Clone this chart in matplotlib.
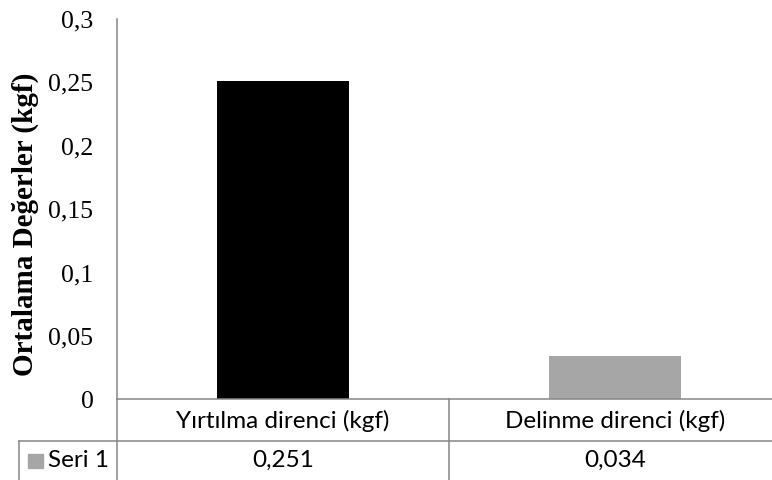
import matplotlib
matplotlib.use('Agg')
import matplotlib.pyplot as plt
import matplotlib.transforms as mtransforms
from matplotlib.patches import Rectangle
from matplotlib.ticker import FuncFormatter

categories = ['Yırtılma direnci (kgf)', 'Delinme direnci (kgf)']
values = [0.251, 0.034]
value_labels = ['0,251', '0,034']
series_name = 'Seri 1'
bar_colors = ['#000000', '#A6A6A6']
yticks = [0, 0.05, 0.1, 0.15, 0.2, 0.25, 0.3]

grid_col = '#868686'
serif = ['Liberation Serif', 'DejaVu Serif']
sans = ['Lato', 'DejaVu Sans']

fig = plt.figure(figsize=(7.72, 4.8), dpi=100)
ax = fig.add_axes([0.1516, 0.168, 0.8601, 0.7925])

x = list(range(len(categories)))
ax.bar(x, values, width=0.4, color=bar_colors)

ax.set_xlim(-0.5, 1.5)
ax.set_ylim(0, 0.3)
ax.set_yticks(yticks)
ax.yaxis.set_major_formatter(FuncFormatter(lambda v, p: f'{v:g}'.replace('.', ',')))
ax.tick_params(axis='y', length=0, pad=17, labelsize=18.5)
for lab in ax.get_yticklabels():
    lab.set_family(serif)
ax.set_xticks([])

for s in ['top', 'right']:
    ax.spines[s].set_visible(False)
ax.spines['left'].set_color(grid_col)
ax.spines['bottom'].set_color(grid_col)
ax.spines['left'].set_linewidth(1.1)
ax.spines['bottom'].set_linewidth(1.1)

fig.text(25 / 772, (480 - 224) / 480, 'Ortalama Değerler (kgf)', rotation=90,
         ha='center', va='center', fontsize=21, fontweight='bold', family=serif)

# data table under the plot
trans = mtransforms.blended_transform_factory(ax.transData, ax.transAxes)
head_bot = -0.1088
tab_bot = -0.23
left_x = -0.1476
lk = dict(color=grid_col, lw=1.1, clip_on=False)
ax.plot([0, 0], [0, tab_bot], transform=ax.transAxes, **lk)
ax.plot([0.5, 0.5], [0, tab_bot], transform=ax.transAxes, **lk)
ax.plot([left_x, 1], [head_bot, head_bot], transform=ax.transAxes, **lk)
ax.plot([left_x, left_x], [head_bot, tab_bot], transform=ax.transAxes, **lk)

for xi, cat, vl in zip(x, categories, value_labels):
    ax.text(xi, -0.057, cat, transform=trans, ha='center', va='center',
            fontsize=17.5, family=sans)
    ax.text(xi, -0.1596, vl, transform=trans, ha='center', va='center',
            fontsize=17.5, family=sans)

ax.add_patch(Rectangle((-0.134, -0.1805), 0.0226, 0.0367, transform=ax.transAxes,
                       color=bar_colors[1], clip_on=False))
ax.text(-0.1039, -0.1596, series_name, transform=ax.transAxes, ha='left', va='center',
        fontsize=17.5, family=sans)

fig.savefig('out.png', dpi=100)
